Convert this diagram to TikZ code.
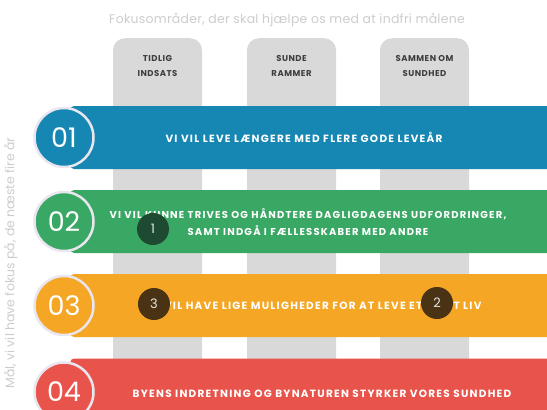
\documentclass[tikz,border=0pt]{standalone}
\usepackage{fontspec}
\setmainfont{Poppins}
\newfontfamily\widefont[LetterSpace=12]{Poppins}
\newfontfamily\lblfont[LetterSpace=6]{Poppins}
\newfontfamily\ttlfont[LetterSpace=2]{Poppins}
\definecolor{cblue}{HTML}{1686B3}
\definecolor{cgreen}{HTML}{3AA865}
\definecolor{corange}{HTML}{F4A624}
\definecolor{cred}{HTML}{E8544B}
\definecolor{colgray}{HTML}{D9D9D9}
\definecolor{lblgray}{HTML}{3E3E3E}
\definecolor{ttlgray}{HTML}{CDCDCD}
\definecolor{ringc}{HTML}{E9E6F0}
\definecolor{dkgreen}{HTML}{1E4A31}
\definecolor{dkbrown}{HTML}{4A3315}
\begin{document}
\begin{tikzpicture}[x=1pt,y=-1pt,
  colbox/.style={fill=colgray, rounded corners=12pt, minimum width=89pt, minimum height=420pt, anchor=north, inner sep=0pt},
  collabel/.style={text=lblgray, font=\lblfont\bfseries\fontsize{8.5}{15}\selectfont, align=center},
  bar/.style={rounded corners=4pt, minimum width=500pt, minimum height=63pt, anchor=west, inner sep=0pt},
  bartext/.style={text=white, font=\widefont\bfseries\fontsize{10.5}{17}\selectfont, align=center},
  numcircle/.style={circle, draw=ringc, line width=2.5pt, minimum size=59pt, inner sep=0pt, text=white, font=\fontsize{27}{27}\selectfont},
  badge/.style={circle, minimum size=32pt, inner sep=0pt, text=white!90!black, font=\fontsize{13}{13}\selectfont}
]
\useasboundingbox (0,0) rectangle (547,410);
\clip (0,0) rectangle (547,410);
\fill[white] (0,0) rectangle (547,410);
\node[text=ttlgray, font=\ttlfont\fontsize{12.5}{14}\selectfont] (title) at (287,20) {Fokusområder, der skal hjælpe os med at indfri målene};
\node[colbox] (c1) at (157.5,38) {};
\node[colbox] (c2) at (291.5,38) {};
\node[colbox] (c3) at (424.5,38) {};
\node[collabel] (l1) at (157.5,66) {TIDLIG\\INDSATS};
\node[collabel] (l2) at (291.5,66) {SUNDE\\RAMMER};
\node[collabel] (l3) at (424.5,66) {SAMMEN OM\\SUNDHED};
\node[bar, fill=cblue] (b1) at (70,137.5) {};
\node[bar, fill=cgreen] (b2) at (70,221.5) {};
\node[bar, fill=corange] (b3) at (70,305.5) {};
\node[bar, fill=cred] (b4) at (70,390) {};
\node[bartext] (t1) at (304,137.5) {VI VIL LEVE LÆNGERE MED FLERE GODE LEVEÅR};
\node[bartext, font=\widefont\bfseries\fontsize{10}{17}\selectfont] (t2) at (308,222) {VI VIL KUNNE TRIVES OG HÅNDTERE DAGLIGDAGENS UDFORDRINGER,\\SAMT INDGÅ I FÆLLESSKABER MED ANDRE};
\node[bartext] (t3) at (315,305.5) {VI VIL HAVE LIGE MULIGHEDER FOR AT LEVE ET GODT LIV};
\node[bartext] (t4) at (322,394) {BYENS INDRETNING OG BYNATUREN STYRKER VORES SUNDHED};
\node[numcircle, fill=cblue] (n1) at (64,137.5) {01};
\node[numcircle, fill=cgreen] (n2) at (64,221.5) {02};
\node[numcircle, fill=corange] (n3) at (64,305.5) {03};
\node[numcircle, fill=cred] (n4) at (64,392) {04};
\node[badge, fill=dkgreen] (k1) at (153,229) {1};
\node[badge, fill=dkbrown] (k3) at (154,304) {3};
\node[badge, fill=dkbrown] (k2) at (437,303) {2};
\node[rotate=90, text=ttlgray, font=\fontsize{12.5}{14}\selectfont] (side) at (11,263) {Mål, vi vil have fokus på, de næste fire år};
\end{tikzpicture}
\end{document}
